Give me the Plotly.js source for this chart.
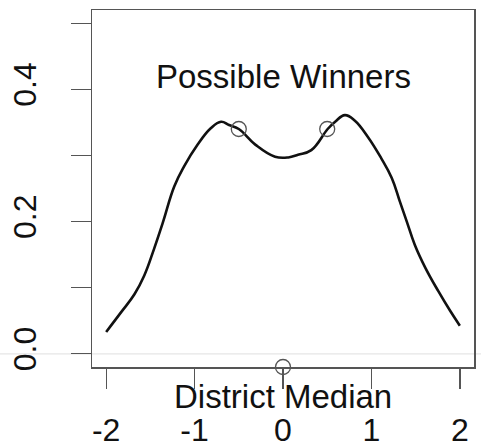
<!DOCTYPE html>
<html>
<head>
<meta charset="utf-8">
<script src="https://cdn.plot.ly/plotly-3.0.1.min.js"></script>
<style>html,body{margin:0;padding:0;background:#fff;}#chart{width:481px;height:448px;}</style>
</head>
<body>
<div id="chart"></div>
<script>
// density curve of district medians
var curveX = [-2.0,-1.83,-1.68,-1.57,-1.46,-1.36,-1.23,-1.12,-0.967,-0.817,-0.70,-0.61,-0.5,-0.31,-0.09,0.06,0.17,0.32,0.505,0.59,0.70,0.81,0.96,1.11,1.23,1.32,1.40,1.49,1.61,1.755,1.89,2.0];
var curveY = [0.033,0.063,0.090,0.118,0.158,0.198,0.253,0.283,0.316,0.341,0.351,0.346,0.340,0.316,0.298,0.297,0.301,0.308,0.340,0.351,0.361,0.353,0.328,0.296,0.266,0.231,0.200,0.165,0.130,0.095,0.065,0.0425];
// possible winners (circles on curve)
var winnersX = [-0.5, 0.5];
var winnersY = [0.340, 0.340];
// district median marker
var medianX = [0];
var medianY = [-0.02];
// ticks
var xTickVals = [-2,-1,0,1,2];
var xTickText = ['-2','-1','0','1','2'];
var yTickVals = [0,0.1,0.2,0.3,0.4,0.5];
var yTickText = ['0.0','','0.2','','0.4',''];
var labelWinners = 'Possible Winners';
var labelMedian = 'District Median';

var font = 'Liberation Sans, Arial, sans-serif';

var traces = [
  {x: curveX, y: curveY, mode: 'lines', type: 'scatter',
   line: {color: '#111', width: 2.6, shape: 'spline', smoothing: 1.2}, hoverinfo: 'skip'},
  {x: winnersX, y: winnersY, mode: 'markers', type: 'scatter',
   marker: {symbol: 'circle-open', size: 15, color: '#555', line: {width: 1.3, color: '#555'}}},
  {x: medianX, y: medianY, mode: 'markers', type: 'scatter', cliponaxis: false,
   marker: {symbol: 'circle-open', size: 15, color: '#555', line: {width: 1.3, color: '#555'}}}
];

var layout = {
  width: 481, height: 448,
  margin: {l: 92, r: 7, t: 10, b: 81, pad: 0},
  paper_bgcolor: '#fff', plot_bgcolor: '#fff',
  showlegend: false,
  font: {family: font, color: '#111', size: 32},
  xaxis: {
    range: [-2.16, 2.16], tickvals: xTickVals, ticktext: xTickText,
    showgrid: false, zeroline: false, showline: true, mirror: true,
    linecolor: '#555', linewidth: 1.5,
    ticks: 'outside', ticklen: 20, tickwidth: 1.3, tickcolor: '#555',
    tickfont: {size: 32, family: font, color: '#111'}, ticklabelstandoff: 14
  },
  yaxis: {
    range: [-0.02, 0.52], tickvals: yTickVals, ticktext: yTickText,
    showgrid: false, zeroline: false, showline: true, mirror: true,
    linecolor: '#555', linewidth: 1.5,
    ticks: 'outside', ticklen: 20, tickwidth: 1.3, tickcolor: '#555',
    tickangle: -90,
    tickfont: {size: 32, family: font, color: '#111'}, ticklabelstandoff: 22
  },
  shapes: [
    {type: 'line', xref: 'paper', yref: 'y', x0: -0.245, x1: 1.02, y0: 0, y1: 0,
     line: {color: '#e6e6e6', width: 1.2}, layer: 'below'}
  ],
  annotations: [
    {x: 0, y: 0.42, xref: 'x', yref: 'y', text: labelWinners, showarrow: false,
     font: {size: 33, family: font, color: '#111'}, xanchor: 'center', yanchor: 'middle'},
    {x: 0, y: -0.084, xref: 'x', yref: 'paper', text: labelMedian, showarrow: false,
     font: {size: 33, family: font, color: '#111'}, xanchor: 'center', yanchor: 'middle'}
  ]
};

Plotly.newPlot('chart', traces, layout, {staticPlot: true, displayModeBar: false});
</script>
</body>
</html>
